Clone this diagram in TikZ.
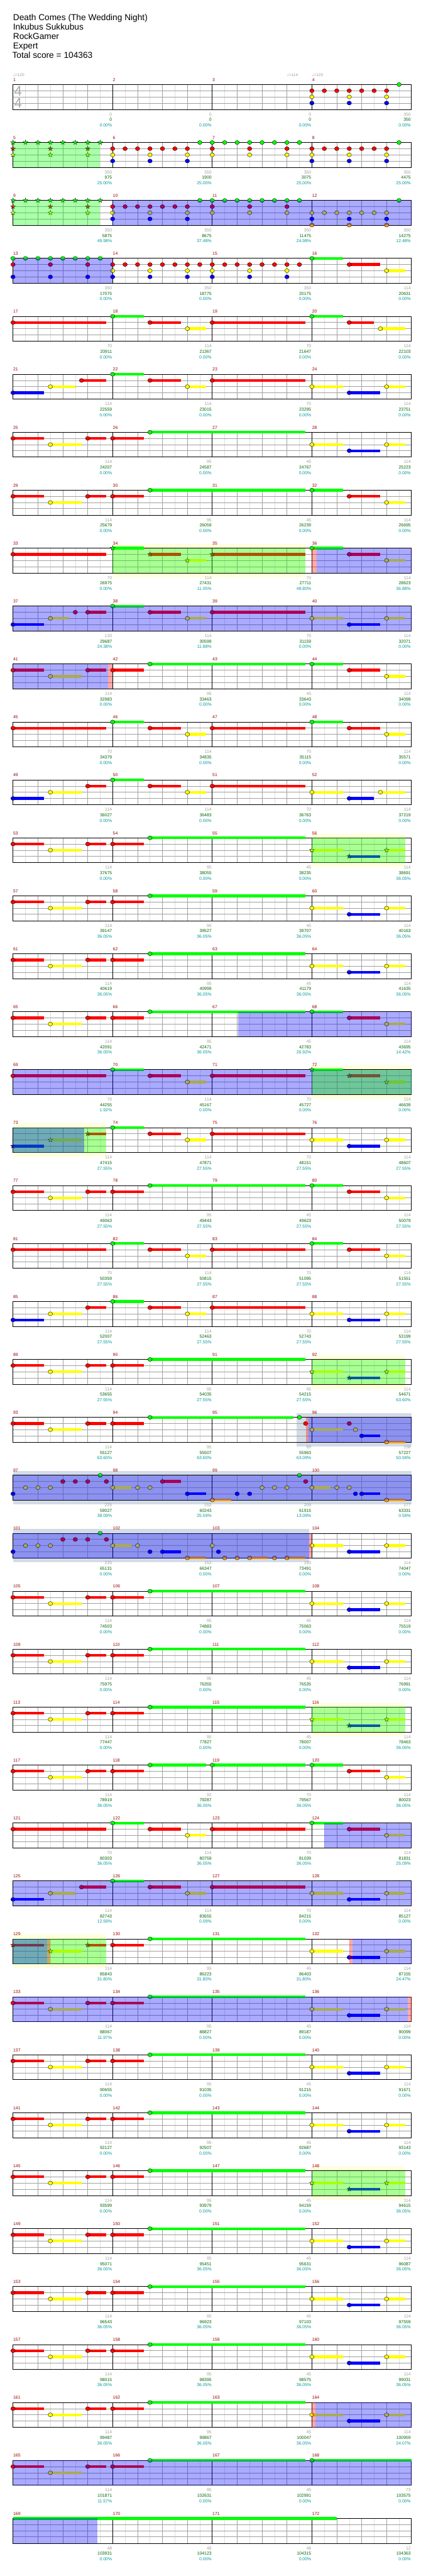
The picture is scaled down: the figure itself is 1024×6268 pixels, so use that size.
\documentclass[tikz,border=0pt]{standalone}
\usepackage{fontspec}
\setmainfont{Liberation Sans}
\newfontfamily\symf{DejaVu Sans}
\definecolor{cg}{RGB}{0,255,0}
\definecolor{cr}{RGB}{255,0,0}
\definecolor{cy}{RGB}{255,255,0}
\definecolor{cb}{RGB}{0,0,255}
\definecolor{co}{RGB}{255,165,0}
\definecolor{mred}{RGB}{153,0,0}
\definecolor{lgr}{RGB}{160,160,160}
\definecolor{lgn}{RGB}{0,100,0}
\definecolor{ltl}{RGB}{0,153,153}
\definecolor{gE}{RGB}{221,221,221}
\definecolor{gQ}{RGB}{160,160,160}
\definecolor{haloyel}{RGB}{255,255,218}
\definecolor{halogry}{RGB}{211,219,232}
\definecolor{tsg}{RGB}{170,170,170}
\tikzset{
 gridE/.style={draw=gE,line width=0.8pt},
 gridQ/.style={draw=gQ,line width=0.8pt},
 gridL/.style={draw=gQ,line width=1pt},
 gridM/.style={draw=black,line width=0.9pt},
 staffborder/.style={draw=black,line width=1.3pt},
 notehead/.style={draw=black,line width=0.6pt},
 starline/.style={draw=black,line width=0.5pt},
 mnum/.style={anchor=base west,inner sep=0pt,text=mred,font=\fontsize{10.5}{12}\selectfont},
 lab/.style={anchor=base east,inner sep=0pt,font=\fontsize{10.5}{12}\selectfont},
 lgray/.style={lab,text=lgr},
 lgreen/.style={lab,text=lgn},
 lteal/.style={lab,text=ltl},
 ttl/.style={anchor=base west,inner sep=0pt,font=\fontsize{21}{25}\selectfont},
 tempotxt/.style={anchor=base west,inner sep=0pt,text=lgr,font=\fontsize{10}{12}\selectfont},
 tsig/.style={anchor=base west,inner sep=0pt,text=tsg,font=\fontsize{34}{40}\selectfont},
 spov/.style={fill=green,fill opacity=0.333},
 odov/.style={fill=blue,fill opacity=0.333},
 pkov/.style={fill=red,fill opacity=0.333},
}
\newcommand\bx[1]{31.7+60.65*(#1)}
\newcommand\setrow[1]{\def\rn{#1}\pgfmathsetmacro\yr{205.7+141*(#1-1)}}
\newcommand\staff{%
 \foreach \i in {1,3,...,31} {\draw[gridE] ({31.7+30.325*\i},\yr) -- ({31.7+30.325*\i},{\yr+60.6});}
 \foreach \i in {1,2,3,5,6,7,9,10,11,13,14,15} {\draw[gridQ] ({\bx{\i}},\yr) -- ({\bx{\i}},{\yr+60.6});}
 \foreach \j in {15,30,45} {\draw[gridL] (31.7,{\yr+\j}) -- (1002.1,{\yr+\j});}
 \foreach \i in {4,8,12} {\draw[gridM] ({\bx{\i}},\yr) -- ({\bx{\i}},{\yr+60.6});}
 \draw[staffborder] (31.7,\yr) rectangle (1002.1,{\yr+60.6});
 \foreach \k in {0,1,2,3} {\pgfmathtruncatemacro\mm{4*\rn-3+\k}
   \node[mnum] (mn\mm) at ({\bx{4*\k}+0.5},{\yr-8}) {\mm};}
}
\newcommand\LB[4]{%
 \node[lgray] (gr\rn k#1) at ({\bx{4*#1}-1.5},{\yr+76}) {#2};
 \node[lgreen] (sc\rn k#1) at ({\bx{4*#1}-1.5},{\yr+89.3}) {#3};
 \node[lteal] (pc\rn k#1) at ({\bx{4*#1}-1.5},{\yr+102.6}) {#4\%};}
\newcommand\LR[9]{\LB{1}{#1}{#2}{#9}\LB{2}{#3}{#4}{#9}\LB{3}{#5}{#6}{#9}\LB{4}{#7}{#8}{#9}}
% heads and sustains
\newcommand\NH[3]{\draw[notehead,fill=#3] ({\bx{#1}},{\yr+15*#2}) ellipse[x radius=5.4pt,y radius=4.8pt];}
\newcommand\NB[4]{\fill[#4] ({\bx{#1}},{\yr+15*#3-3.3}) rectangle ({\bx{#2}},{\yr+15*#3+3.3});}
\newcommand\NS[4]{\NB{#1}{#2}{#3}{#4}\NH{#1}{#3}{#4}}
\newcommand\NT[3]{\draw[starline,fill=#3] ({\bx{#1}},{\yr+15*#2}) +(90:6pt) -- +(126:2.4pt) -- +(162:6pt) -- +(198:2.4pt) -- +(234:6pt) -- +(270:2.4pt) -- +(306:6pt) -- +(342:2.4pt) -- +(18:6pt) -- +(54:2.4pt) -- cycle;}
\newcommand\NU[4]{\NB{#1}{#2}{#3}{#4}\NT{#1}{#3}{#4}}
\newcommand\hG[1]{\NH{#1}{0}{cg}}
\newcommand\hR[1]{\NH{#1}{1}{cr}}
\newcommand\hY[1]{\NH{#1}{2}{cy}}
\newcommand\hB[1]{\NH{#1}{3}{cb}}
\newcommand\hO[1]{\NH{#1}{4}{co}}
\newcommand\sG[2]{\NS{#1}{#2}{0}{cg}}
\newcommand\sR[2]{\NS{#1}{#2}{1}{cr}}
\newcommand\sY[2]{\NS{#1}{#2}{2}{cy}}
\newcommand\sB[2]{\NS{#1}{#2}{3}{cb}}
\newcommand\sO[2]{\NS{#1}{#2}{4}{co}}
\newcommand\tG[1]{\NT{#1}{0}{cg}}
\newcommand\tR[1]{\NT{#1}{1}{cr}}
\newcommand\tY[1]{\NT{#1}{2}{cy}}
\newcommand\uG[2]{\NU{#1}{#2}{0}{cg}}
\newcommand\uR[2]{\NU{#1}{#2}{1}{cr}}
\newcommand\uY[2]{\NU{#1}{#2}{2}{cy}}
\newcommand\uB[2]{\NU{#1}{#2}{3}{cb}}
% regions
\newcommand\HY[2]{\fill[haloyel] ({\bx{#1}},{\yr-10}) rectangle ({\bx{#2}},{\yr+70.6});}
\newcommand\HG[2]{\fill[halogry] ({\bx{#1}},{\yr-10}) rectangle ({\bx{#2}},{\yr+70.6});}
\newcommand\SP[2]{\fill[spov] ({\bx{#1}},\yr) rectangle ({\bx{#2}},{\yr+60.6});}
\newcommand\OD[2]{\fill[odov] ({\bx{#1}},\yr) rectangle ({\bx{#2}},{\yr+60.6});}
\newcommand\PK[2]{\fill[pkov] ({\bx{#1}},\yr) rectangle ({\bx{#2}},{\yr+60.6});}
% patterns
\newcommand\PatA{\sR{0}{1.25}\sY{1.5}{2.75}\sR{3}{3.75}\sR{4}{5.25}\sG{5.5}{11.75}}
\newcommand\PatM{\sG{4}{5.25}\sR{5.5}{6.75}\sY{7}{7.75}\sR{8}{11.75}}
\newcommand\EndA{\sY{12}{13.25}\sB{13.5}{14.75}\sY{15}{15.75}}
\newcommand\EndB{\sG{12}{13.25}\sR{13.5}{14.75}\sY{15}{15.75}}
\newcommand\EndS{\uY{12}{13.25}\uB{13.5}{14.75}\uY{15}{15.75}}
\newcommand\RowSP[1]{\setrow{#1}\HY{12}{15.75}\staff\PatA\EndS\SP{12}{15.75}}
\newcommand\RowA[1]{\setrow{#1}\staff\PatA\EndA}
\begin{document}
\begin{tikzpicture}[x=1pt,y=-1pt]
\useasboundingbox (0,0) rectangle (1024,6268);
\fill[white] (0,0) rectangle (1024,6268);
\node[ttl] (t1) at (31.7,50) {Death Comes (The Wedding Night)};
\node[ttl] (t2) at (31.7,72.5) {Inkubus Sukkubus};
\node[ttl] (t3) at (31.7,95.5) {RockGamer};
\node[ttl] (t4) at (31.7,118) {Expert};
\node[ttl] (t5) at (29.7,141.5) {Total score = 104363};
% row 1
\setrow{1}\staff
\node[tempotxt] (tp1) at ({\bx{0}},{\yr-19.7}) {{\symf ♩}=120};
\node[tempotxt] (tp2) at ({\bx{11}},{\yr-19.7}) {{\symf ♩}=114};
\node[tempotxt] (tp3) at ({\bx{12}},{\yr-19.7}) {{\symf ♩}=120};
\node[tsig] (ts1) at (34.5,{\yr+27.3}) {4};
\node[tsig] (ts2) at (34.5,{\yr+57.3}) {4};
\foreach \b in {12,12.5,...,15} {\hR{\b}}
\hY{12}\hY{13.5}\hY{15}\hB{12}\hB{13.5}\hB{15}\hG{15.5}
\LR{0}{0}{0}{0}{0}{0}{350}{350}{0.00}
% row 2
\setrow{2}\staff
\foreach \b in {0,0.5,...,3.5} {\tG{\b}}
\tR{0}\tR{1.5}\tR{3}\tY{0}\tY{1.5}\tY{3}
\foreach \b in {4,4.5,...,7} {\hR{\b}}
\hY{4}\hY{5.5}\hY{7}\hB{4}\hB{5.5}\hB{7}
\foreach \b in {7.5,8,...,11.5} {\hG{\b}}
\hR{8}\hR{9.5}\hR{11}\hY{8}\hY{9.5}\hY{11}
\foreach \b in {12,12.5,...,15} {\hR{\b}}
\hY{12}\hY{13.5}\hY{15}\hB{12}\hB{13.5}\hB{15}\hG{15.5}
\SP{0}{3.5}
\LR{350}{975}{350}{1900}{350}{3075}{350}{4475}{25.00}
% row 3
\setrow{3}\staff
\foreach \b in {0,0.5,...,3.5} {\tG{\b}}
\tR{0}\tR{1.5}\tR{3}\tY{0}\tY{1.5}\tY{3}
\foreach \b in {4,4.5,...,7} {\hR{\b}}
\hY{4}\hY{5.5}\hY{7}\hB{4}\hB{5.5}\hB{7}
\foreach \b in {7.5,8,...,11.5} {\hG{\b}}
\hR{8}\hR{9.5}\hR{11}\hY{8}\hY{9.5}\hY{11}
\foreach \b in {12,12.5,...,15} {\hY{\b}}
\hB{12}\hB{13.5}\hB{15}\hO{12}\hO{13.5}\hO{15}\hG{15.5}
\SP{0}{3.5}\OD{4}{16}
\LB{1}{350}{5875}{49.98}\LB{2}{350}{8675}{37.48}\LB{3}{350}{11475}{24.98}\LB{4}{350}{14275}{12.48}
% row 4
\setrow{4}\staff
\foreach \b in {0,0.5,...,3.5} {\hG{\b}}
\hR{0}\hR{1.5}\hR{3}\hB{0}\hB{1.5}\hB{3}
\foreach \b in {4,4.5,...,11.5} {\hR{\b}}
\foreach \b in {4,5.5,7,8,9.5,11} {\hY{\b}\hB{\b}}
\sG{12}{13.25}\sR{13.5}{14.75}\sY{15}{15.75}
\OD{0}{4}
\LR{350}{17075}{350}{18775}{350}{20175}{114}{20631}{0.00}
% row 5
\setrow{5}\staff
\sR{0}{3.75}\PatM\sG{12}{13.25}\sR{13.5}{14.5}\sY{14.75}{15.75}
\LR{70}{20911}{114}{21367}{70}{21647}{114}{22103}{0.00}
% row 6
\setrow{6}\staff
\sB{0}{1.25}\sY{1.5}{2.5}\sR{2.75}{3.75}\PatM\EndA
\LR{114}{22559}{114}{23015}{70}{23295}{114}{23751}{0.00}
% row 7
\RowA{7}
\LR{114}{24207}{95}{24587}{45}{24767}{114}{25223}{0.00}
% row 8
\setrow{8}\staff\PatA\EndB
\LR{114}{25679}{95}{26059}{45}{26239}{114}{26695}{0.00}
% row 9
\setrow{9}\HY{4}{11.75}\staff
\sR{0}{3.75}\uG{4}{5.25}\uR{5.5}{6.75}\uY{7}{7.75}\uR{8}{11.75}\EndB
\SP{4}{11.75}\PK{12}{12.2}\OD{12.2}{16}
\LB{1}{70}{26975}{0.00}\LB{2}{114}{27431}{11.05}\LB{3}{70}{27711}{48.80}\LB{4}{114}{28623}{36.88}
% row 10
\setrow{10}\staff
\sB{0}{1.25}\sY{1.5}{2.25}\hR{2.5}\sR{3}{3.75}\PatM\EndA
\OD{0}{16}
\LB{1}{133}{29687}{24.38}\LB{2}{114}{30599}{11.88}\LB{3}{70}{31159}{0.00}\LB{4}{114}{32071}{0.00}
% row 11
\setrow{11}\staff\PatA\EndB\OD{0}{3.81}\PK{3.81}{4}
\LR{114}{32983}{95}{33463}{45}{33643}{114}{34099}{0.00}
% row 12
\setrow{12}\staff\sR{0}{3.75}\PatM\EndB
\LR{70}{34379}{114}{34835}{70}{35115}{114}{35571}{0.00}
% row 13
\setrow{13}\staff
\sB{0}{1.25}\sY{1.5}{2.75}\sR{3}{3.75}\PatM\sY{12}{13.25}\sB{13.5}{14.5}\sY{14.75}{15.75}
\LR{114}{36027}{114}{36483}{70}{36763}{114}{37219}{0.00}
% row 14
\RowSP{14}
\LB{1}{114}{37675}{0.00}\LB{2}{95}{38055}{0.00}\LB{3}{45}{38235}{0.00}\LB{4}{114}{38691}{36.05}
% row 15
\RowA{15}
\LR{114}{39147}{95}{39527}{45}{39707}{114}{40163}{36.05}
% row 16
\RowA{16}
\LR{114}{40619}{95}{40999}{45}{41179}{114}{41635}{36.05}
% row 17
\setrow{17}\staff\PatA\EndB\OD{9.05}{16}
\LB{1}{114}{42091}{36.05}\LB{2}{95}{42471}{36.05}\LB{3}{45}{42783}{26.92}\LB{4}{114}{43695}{14.42}
% row 18
\setrow{18}\HY{12}{16}\staff
\sR{0}{3.75}\PatM\uG{12}{13.25}\uR{13.5}{14.75}\uY{15}{15.75}
\OD{0}{16}\SP{12}{16}
\LB{1}{70}{44255}{1.92}\LB{2}{114}{45167}{0.00}\LB{3}{70}{45727}{0.00}\LB{4}{114}{46639}{0.00}
% row 19
\setrow{19}\HY{0}{3.75}\staff
\uB{0}{1.25}\uY{1.5}{2.75}\uR{3}{3.75}\PatM\EndA
\SP{0}{3.75}\OD{0}{2.86}
\LR{114}{47415}{114}{47871}{70}{48151}{114}{48607}{27.55}
% row 20
\setrow{20}\staff\PatA\EndB
\LR{114}{49063}{95}{49443}{45}{49623}{114}{50079}{27.55}
% row 21
\setrow{21}\staff\sR{0}{3.75}\PatM\EndB
\LR{70}{50359}{114}{50815}{70}{51095}{114}{51551}{27.55}
% row 22
\setrow{22}\staff
\sB{0}{1.25}\sY{1.5}{2.75}\sR{3}{3.75}\PatM\EndA
\LR{114}{52007}{114}{52463}{70}{52743}{114}{53199}{27.55}
% row 23
\RowSP{23}
\LB{1}{114}{53655}{27.55}\LB{2}{95}{54035}{27.55}\LB{3}{45}{54215}{27.55}\LB{4}{114}{54671}{63.60}
% row 24
\setrow{24}\HG{11.38}{16}\staff
\sR{0}{1.25}\sY{1.5}{2.75}\sR{3}{3.75}\sR{4}{5.25}\sG{5.5}{11.25}\hG{11.5}\hR{11.75}
\sY{12}{13.25}\hR{13.5}\hY{13.75}\sB{14}{14.75}\sO{15}{15.75}
\PK{11.76}{11.86}\OD{11.86}{16}
\LB{1}{114}{55127}{63.60}\LB{2}{95}{55507}{63.60}\LB{3}{89}{55963}{63.09}\LB{4}{158}{57227}{50.59}
% row 25
\setrow{25}\HG{0}{16}\staff
\hB{0}\hY{0.5}\hY{1}\hY{1.5}\hR{2}\hR{2.5}\hR{3}\hG{3.5}\hR{3.75}
\sY{4}{4.75}\hY{5}\hY{5.5}\sR{6}{6.75}\sB{7}{7.75}
\sO{8}{8.75}\hB{9}\hB{9.5}\hY{10}\hY{10.5}\hY{11}\hG{11.5}\hR{11.75}
\sY{12}{12.75}\hY{13}\hY{13.5}\hB{13.75}\sB{14}{14.75}\sO{15}{15.75}
\OD{0}{16}
\LB{1}{225}{59027}{38.09}\LB{2}{152}{60243}{25.59}\LB{3}{209}{61915}{13.09}\LB{4}{177}{63331}{0.59}
% row 26
\setrow{26}\HG{0}{11.88}\staff
\hB{0}\hY{0.5}\hY{1}\hY{1.5}\hR{2}\hR{2.5}\hR{3}\hG{3.5}\hR{3.75}
\sY{4}{4.75}\hY{5}\hB{5.5}\sB{6}{6.75}\sO{7}{7.75}
\hY{8}\hB{8.25}\hO{8.5}\hO{9}\sO{9.5}{10.25}\hO{10.5}\sO{11}{11.75}
\EndA
\OD{0}{11.88}\PK{11.88}{12}
\LR{225}{65131}{152}{66347}{193}{73491}{114}{74047}{0.00}
% row 27
\RowA{27}
\LR{114}{74503}{95}{74883}{45}{75063}{114}{75519}{0.00}
% row 28
\RowA{28}
\LR{114}{75975}{95}{76355}{45}{76535}{114}{76991}{0.00}
% row 29
\RowSP{29}
\LB{1}{114}{77447}{0.00}\LB{2}{95}{77827}{0.00}\LB{3}{45}{78007}{0.00}\LB{4}{114}{78463}{36.05}
% row 30
\setrow{30}\staff
\sR{0}{1.25}\sY{1.5}{2.75}\sR{3}{3.75}\sR{4}{5.25}\sG{5.5}{7.75}\sG{8}{11.75}\EndB
\LR{114}{78919}{92}{79287}{70}{79567}{114}{80023}{36.05}
% row 31
\setrow{31}\staff\sR{0}{3.75}\PatM\EndB\OD{12.49}{16}
\LB{1}{70}{80303}{36.05}\LB{2}{114}{80759}{36.05}\LB{3}{70}{81039}{36.05}\LB{4}{114}{81831}{25.09}
% row 32
\setrow{32}\staff
\sB{0}{1.25}\sY{1.5}{2.5}\sR{2.75}{3.75}\PatM\EndA\OD{0}{16}
\LB{1}{114}{82743}{12.59}\LB{2}{114}{83655}{0.09}\LB{3}{70}{84215}{0.00}\LB{4}{114}{85127}{0.00}
% row 33
\setrow{33}\HY{0}{3.75}\staff
\uR{0}{1.25}\uY{1.5}{2.75}\uR{3}{3.75}\sR{4}{5.25}\sG{5.5}{11.75}\EndA
\SP{0}{3.75}\OD{0}{1.38}\PK{1.38}{1.5}\PK{13.5}{13.64}\OD{13.64}{16}
\LB{1}{114}{85843}{31.80}\LB{2}{95}{86223}{31.80}\LB{3}{45}{86403}{31.80}\LB{4}{114}{87155}{24.47}
% row 34
\RowA{34}\OD{0}{15.85}\PK{15.85}{16}
\LB{1}{114}{88067}{11.97}\LB{2}{95}{88827}{0.00}\LB{3}{45}{89187}{0.00}\LB{4}{114}{90099}{0.00}
% row 35
\RowA{35}
\LR{114}{90655}{95}{91035}{45}{91215}{114}{91671}{0.00}
% row 36
\RowA{36}
\LR{114}{92127}{95}{92507}{45}{92687}{114}{93143}{0.00}
% row 37
\RowSP{37}
\LB{1}{114}{93599}{0.00}\LB{2}{95}{93979}{0.00}\LB{3}{45}{94159}{0.00}\LB{4}{114}{94615}{36.05}
% row 38
\RowA{38}
\LR{114}{95071}{95}{95451}{45}{95631}{114}{96087}{36.05}
% row 39
\RowA{39}
\LR{114}{96543}{95}{96923}{45}{97103}{114}{97559}{36.05}
% row 40
\RowA{40}
\LR{114}{98015}{95}{98395}{45}{98575}{114}{99031}{36.05}
% row 41
\RowA{41}\PK{12}{12.15}\OD{12.15}{16}
\LB{1}{114}{99487}{36.05}\LB{2}{95}{99867}{36.05}\LB{3}{45}{100047}{36.05}\LB{4}{114}{100959}{24.07}
% row 42
\setrow{42}\staff\PatA\sG{12}{16}\OD{0}{16}
\LB{1}{114}{101871}{11.57}\LB{2}{95}{102631}{0.00}\LB{3}{45}{102991}{0.00}\LB{4}{73}{103575}{0.00}
% row 43
\setrow{43}\staff\NB{0}{12.99}{0}{cg}\OD{0}{3.4}
\LR{48}{103931}{48}{104123}{48}{104315}{12}{104363}{0.00}
\end{tikzpicture}
\end{document}
